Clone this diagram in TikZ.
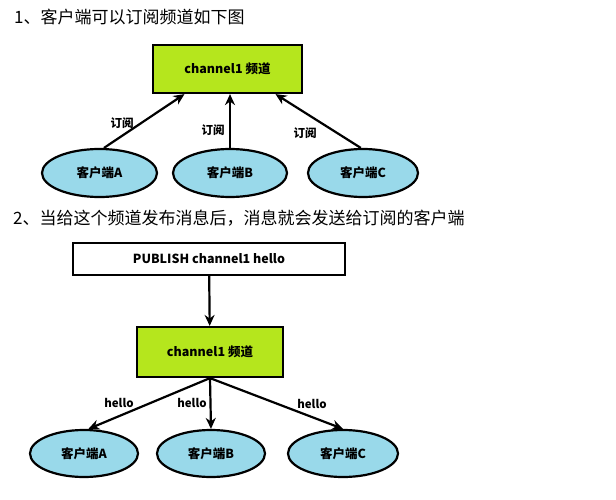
\documentclass[tikz,border=0pt]{standalone}
\usepackage{fontspec}
\newfontfamily\cjk{Noto Sans CJK SC}
\usetikzlibrary{arrows.meta, shapes.geometric}
\definecolor{lime}{HTML}{B5E61D}
\definecolor{turq}{HTML}{99D9EA}
\begin{document}
\begin{tikzpicture}[x=1pt, y=-1pt, >={Stealth[length=11pt, width=10pt]}]
      \tikzstyle{chan}=[draw, line width=2.2pt, fill=lime, font=\cjk\bfseries\fontsize{12.5}{14}\selectfont]
      \tikzstyle{cli}=[draw, ellipse, line width=2.2pt, fill=turq, inner sep=0pt, font=\cjk\bfseries\fontsize{12.5}{14}\selectfont]
      \tikzstyle{lbl}=[font=\cjk\bfseries\fontsize{11.5}{13}\selectfont]
      \tikzstyle{ttl}=[anchor=west, inner sep=0pt, font=\cjk\fontsize{17}{20}\selectfont]
      \tikzstyle{arr}=[->, line width=2.2pt]
      \useasboundingbox (0,0) rectangle (616,500);
      % part 1: subscribe
      \node[ttl] (t1) at (14,17) {1、客户端可以订阅频道如下图};
      \node[chan, minimum width=149pt, minimum height=48pt] (ch1) at (227.5,69) {channel1 频道};
      \node[cli, minimum width=115pt, minimum height=48pt] (a1) at (99.5,173) {客户端A};
      \node[cli, minimum width=114pt, minimum height=48pt] (b1) at (230,173) {客户端B};
      \node[cli, minimum width=110pt, minimum height=48pt] (c1) at (363,173) {客户端C};
      \coordinate (inA) at ([xshift=-43pt]ch1.south);
      \coordinate (inB) at ([xshift=2.5pt]ch1.south);
      \coordinate (inC) at ([xshift=48pt]ch1.south);
      \draw[arr] (a1.80) -- (inA);
      \draw[arr] (b1.north) -- (inB);
      \draw[arr] (c1.95) -- (inC);
      \node[lbl] (s1) at (122,123) {订阅};
      \node[lbl] (s2) at (213,130) {订阅};
      \node[lbl] (s3) at (305,133) {订阅};
      % part 2: publish
      \node[ttl] (t2) at (13,218) {2、当给这个频道发布消息后，消息就会发送给订阅的客户端};
      \node[chan, fill=white, minimum width=272pt, minimum height=32pt] (pub) at (209,259) {PUBLISH channel1 hello};
      \node[chan, minimum width=146pt, minimum height=50pt] (ch2) at (210,352) {channel1 频道};
      \node[cli, minimum width=108pt, minimum height=47pt] (a2) at (84,453.5) {客户端A};
      \node[cli, minimum width=108pt, minimum height=47pt] (b2) at (211,453.5) {客户端B};
      \node[cli, minimum width=110pt, minimum height=47pt] (c2) at (343,453.5) {客户端C};
      \draw[arr] (pub) -- (ch2);
      \draw[arr] (ch2.south) -- (a2.80);
      \draw[arr] (ch2.south) -- (b2.north);
      \draw[arr] (ch2.south) -- (c2.north);
      \node[lbl] (h1) at (119,403) {hello};
      \node[lbl] (h2) at (192,403) {hello};
      \node[lbl] (h3) at (312,404) {hello};
    \end{tikzpicture}
\end{document}
